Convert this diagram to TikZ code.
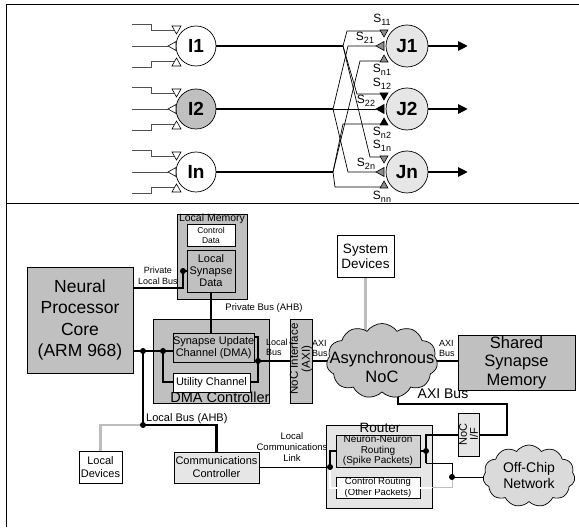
\documentclass[tikz,border=0pt]{standalone}
\usepackage{fontspec}
\setmainfont{Liberation Sans}
\usetikzlibrary{shapes.symbols,arrows.meta,calc}
\pgfdeclarelayer{cont}
\pgfdeclarelayer{wires}
\pgfsetlayers{cont,wires,main}
\definecolor{boxgray}{HTML}{C0C0C0}
\definecolor{palegray}{HTML}{E6E6E6}
\definecolor{cloudgray}{HTML}{C4C4C4}
\definecolor{offgray}{HTML}{DADADA}
\definecolor{nngray}{HTML}{D2D2D2}
\definecolor{linkgray}{HTML}{BDBDBD}
\definecolor{trigray}{HTML}{8C8C8C}
\definecolor{wiregray}{HTML}{505050}
\newcommand\fsz[2]{\fontsize{#1}{#2}\selectfont}
\newcommand\synlab[1]{S\raisebox{-3pt}{\fsz{9}{9}#1}}
\begin{document}
\begin{tikzpicture}[x=1pt,y=-1pt,
  box/.style={draw,line width=0.7pt,inner sep=0pt,outer sep=0pt,align=center,anchor=north west},
  neuron/.style={circle,draw,line width=0.7pt,minimum size=40pt,inner sep=0pt,font=\fsz{19}{19}\bfseries},
  bus/.style={line width=2.6pt},
  wire/.style={line width=0.7pt},
  dot/.style={circle,fill=black,inner sep=0pt,minimum size=6pt},
  lbl/.style={inner sep=0pt,align=center},
  slbl/.style={inner sep=0pt,font=\fsz{12}{12}},
  syn/.style={line width=0.6pt},
  cloudnode/.style={cloud,draw,line width=0.7pt,cloud puffs=11,cloud puff arc=110,inner sep=0pt,outer sep=0pt},
]
\useasboundingbox (0,0) rectangle (579,529);
\draw[line width=0.8pt] (579,4) -- (6,4) -- (6,527);
\draw[line width=0.8pt] (6,203) -- (579,203);

% ---------------- top: neurons ----------------
\node[neuron,fill=white] (I1) at (196,46) {I1};
\node[neuron,fill=boxgray] (I2) at (196,109) {I2};
\node[neuron,fill=white] (In) at (196,172) {In};
\node[neuron,fill=palegray,minimum size=42pt] (J1) at (407,46) {J1};
\node[neuron,fill=palegray,minimum size=42pt] (J2) at (407,109) {J2};
\node[neuron,fill=palegray,minimum size=42pt] (Jn) at (407,172) {Jn};

\foreach \nm in {I1,I2,In}{
  \draw[wire,wiregray] (\nm.center) ++(-64,-22) coordinate (\nm-a0) -- ++(19,0) -- ++(0,6) -- ++(23,0) coordinate (\nm-a1);
  \draw[wire,wiregray] (\nm.center) ++(-64,0) coordinate (\nm-b0) -- ++(36,0) coordinate (\nm-b1);
  \draw[wire,wiregray] (\nm.center) ++(-64,21) coordinate (\nm-c0) -- ++(19,0) -- ++(0,-6) -- ++(23,0) coordinate (\nm-c1);
  \draw[syn,fill=white] (\nm.center) ++(-24,-20) -- ++(9,0) -- ++(-4.5,8) -- cycle;
  \draw[syn,fill=white] (\nm.center) ++(-28,0) -- ++(8,-4.5) -- ++(0,9) -- cycle;
  \draw[syn,fill=white] (\nm.center) ++(-24,20) -- ++(9,0) -- ++(-4.5,-8) -- cycle;
}
\foreach \j/\c in {J1/trigray,J2/black,Jn/trigray}{
  \coordinate (\j-t) at ($(\j)+(-26,-15)$);
  \coordinate (\j-m) at ($(\j)+(-31,0)$);
  \coordinate (\j-b) at ($(\j)+(-26,15)$);
  \draw[syn,fill=\c] (\j.center) ++(-27,-16) -- ++(8,0) -- ++(-4,7) -- cycle;
  \draw[syn,fill=\c] (\j.center) ++(-31,0) -- ++(8,-4.5) -- ++(0,9) -- cycle;
  \draw[syn,fill=\c] (\j.center) ++(-27,16) -- ++(8,0) -- ++(-4,-7) -- cycle;
}

\coordinate (A1) at (343,46);
\coordinate (A2) at (333,109);
\coordinate (A3) at (333,172);
\begin{pgfonlayer}{wires}
\draw[bus] (I1) -- (A1);
\draw[bus] (I2) -- (A2);
\draw[bus] (In) -- (A3);
\draw[wire] (A1) -- (347,31) -- (J1-t);
\draw[wire] (A1) -- (357,94) -- (J2-t);
\draw[wire] (A1) -- (370,157) -- (Jn-t);
\draw[wire] (A2) -- (348,46) -- (J1-m);
\draw[wire] (A2) -- (J2-m);
\draw[wire] (A2) -- (348,172) -- (Jn-m);
\draw[wire] (A3) -- (360,61) -- (J1-b);
\draw[wire] (A3) -- (343,124) -- (J2-b);
\draw[wire] (A3) -- (335,187) -- (Jn-b);
\end{pgfonlayer}
\coordinate (O1) at (468,46);
\coordinate (O2) at (468,109);
\coordinate (On) at (468,172);
\foreach \j/\o in {J1/O1,J2/O2,Jn/On}
  \draw[bus,-{Triangle[length=10pt,width=9pt]}] (\j) -- (\o);

\node[slbl] (s11) at (382,20) {\synlab{11}};
\node[slbl] (s21) at (365,38) {\synlab{21}};
\node[slbl] (sn1) at (382,70) {\synlab{n1}};
\node[slbl] (s12) at (382,84) {\synlab{12}};
\node[slbl] (s22) at (366,101) {\synlab{22}};
\node[slbl] (sn2) at (382,133) {\synlab{n2}};
\node[slbl] (s1n) at (382,146) {\synlab{1n}};
\node[slbl] (s2n) at (366,164) {\synlab{2n}};
\node[slbl] (snn) at (382,197) {\synlab{nn}};

% ---------------- bottom: chip ----------------
\begin{pgfonlayer}{cont}
\node[box,fill=boxgray,minimum width=70pt,minimum height=85pt] (lmem) at (177,214) {};
\node[box,fill=boxgray,minimum width=116pt,minimum height=84pt] (dma) at (153,319) {};
\node[box,fill=palegray,minimum width=106pt,minimum height=83pt] (router) at (326,425) {};
\end{pgfonlayer}
\node[lbl,font=\fsz{10.5}{10.5}] (lmemlbl) at (212,219) {Local Memory};
\node[lbl,font=\fsz{14.5}{14.5}] (dmalbl) at (220,397) {DMA Controller};
\node[lbl,font=\fsz{13.5}{13.5}] (routerlbl) at (380,427.5) {Router};

\node[box,fill=boxgray,minimum width=106pt,minimum height=106pt,font=\fsz{17.5}{21.5}] (npc) at (27,267) {Neural\\Processor\\Core\\(ARM 968)};
\node[box,fill=white,minimum width=48pt,minimum height=22pt,font=\fsz{8.5}{10}] (ctrl) at (187,224) {Control\\Data};
\node[box,fill=boxgray,minimum width=48pt,minimum height=42pt,font=\fsz{11}{12}] (lsd) at (187,250) {Local\\Synapse\\Data};
\node[box,fill=boxgray,minimum width=77pt,minimum height=29pt,font=\fsz{11}{12}] (suc) at (173,333) {Synapse Update\\Channel (DMA)};
\node[box,fill=white,minimum width=77pt,minimum height=19pt,font=\fsz{11}{12}] (util) at (173,373) {Utility Channel};
\node[box,fill=boxgray,minimum width=22pt,minimum height=84pt] (nocif) at (290,319) {};
\node[lbl,rotate=90,font=\fsz{11.5}{12}] (nociftxt) at (301,359) {NoC Interface\\(AXI)};
\node[box,fill=white,minimum width=57pt,minimum height=42pt,font=\fsz{13.5}{15}] (sysdev) at (337,235) {System\\Devices};
\node[cloudnode,fill=cloudgray,minimum width=111pt,minimum height=75pt] (noc) at (382,361) {};
\node[lbl,font=\fsz{16.5}{19}] (noctxt) at (382,367) {Asynchronous\\NoC};
\node[box,fill=boxgray,minimum width=117pt,minimum height=55pt,font=\fsz{16.5}{18.5}] (shared) at (458,335) {Shared\\Synapse\\Memory};
\node[box,fill=nngray,minimum width=84pt,minimum height=32pt,font=\fsz{10}{10.5}] (nn) at (336,435) {Neuron-Neuron\\Routing\\(Spike Packets)};
\node[box,fill=white,minimum width=84pt,minimum height=21pt,font=\fsz{9.5}{10.5}] (cr) at (336,477) {Control Routing\\(Other Packets)};
\node[box,fill=palegray,minimum width=21pt,minimum height=43pt] (nocifb) at (458,413) {};
\node[lbl,rotate=90,font=\fsz{11}{11}] (nocifbtxt) at (468.5,434.5) {NoC\\I/F};
\node[cloudnode,fill=offgray,minimum width=92pt,minimum height=62pt] (offchip) at (529,476) {};
\node[lbl,font=\fsz{14}{16}] (offtxt) at (529,475) {Off-Chip\\Network};
\node[box,fill=palegray,minimum width=85pt,minimum height=31pt,font=\fsz{11}{13}] (comm) at (174,452) {Communications\\Controller};
\node[box,fill=white,minimum width=43pt,minimum height=32pt,font=\fsz{11}{13}] (ldev) at (79,451) {Local\\Devices};

% labels
\node[lbl,font=\fsz{9}{10.5}] (plbl) at (158,276) {Private\\Local Bus};
\node[lbl,font=\fsz{9.5}{9.5}] (pblbl) at (264,308) {Private Bus (AHB)};
\node[lbl,align=left,anchor=west,font=\fsz{9}{10}] (lblbl) at (266,347) {Local\\Bus};
\node[lbl,align=left,anchor=west,font=\fsz{9}{10}] (axil) at (312,348) {AXI\\Bus};
\node[lbl,align=left,anchor=west,font=\fsz{9}{10}] (axir) at (439,348) {AXI\\Bus};
\node[lbl,font=\fsz{14}{14}] (axib) at (443,394) {AXI Bus};
\node[lbl,anchor=west,font=\fsz{11}{11}] (lbahb) at (146,419) {Local Bus (AHB)};
\node[lbl,font=\fsz{9.5}{11}] (lcl) at (292,447) {Local\\Communications\\Link};

% junction coordinates
\coordinate (plb0) at (183,288);
\coordinate (plb) at (183,271);
\coordinate (D0) at (143,351);
\coordinate (D1) at (163,351);
\coordinate (R1) at (258,337);
\coordinate (R2) at (258,382);
\coordinate (D2) at (258,361);
\coordinate (LB) at (143,425);
\coordinate (X1) at (398,404);
\coordinate (X2) at (507,404);
\coordinate (X3) at (507,435);
\coordinate (X4) at (426,435);
\coordinate (X5) at (426,463);
\coordinate (ND) at (426,451);
\coordinate (X6) at (452,463);
\coordinate (OD) at (452,477);
\coordinate (G1) at (452,488);
\coordinate (G2) at (330,488);
\coordinate (LC) at (330,467);

\begin{pgfonlayer}{wires}
\draw[bus] (npc.east |- plb0) -- (plb0) -- (plb) -- (lsd.west |- plb);
\draw[bus] (lsd.south) -- (lsd.south |- suc.north);
\draw[bus] (npc.east |- D0) -- (suc.west |- D0);
\draw[bus] (D1) -- (D1 |- R2) -- (util.west |- R2);
\draw[bus] (suc.east |- R1) -- (R1) -- (R2) -- (util.east |- R2);
\draw[bus] (D2) -- (nocif.west |- D2);
\draw[bus] (nocif.east |- D2) -- (noc.center);
\draw[bus] (noc.center) -- (shared.west |- noc.center);
\draw[linkgray,line width=2.6pt] (sysdev.south) -- (sysdev.south |- noc.center);
\draw[bus] (X1 |- noc.center) -- (X1) -- (X2) -- (X3) -- (nocifb.east |- X3);
\draw[bus] (nocifb.west |- X4) -- (X4) -- (X5);
\draw[bus] (nn.east |- ND) -- (ND);
\draw[wire] (X5) -- (X6) -- (OD) -- (offchip.center |- OD);
\draw[linkgray,line width=1pt] (OD) -- (G1) -- (router.east |- G1);
\draw[wire] (comm.east |- LC) -- (LC);
\draw[bus] (LC) -- (LC |- nn.west) -- (nn.west);
\draw[bus] (D0) -- (LB) -- (LB -| comm.north) -- (comm.north);
\draw[linkgray,line width=2.6pt] (LB) -- (LB -| ldev.north) -- (ldev.north);
\end{pgfonlayer}
\draw[white,line width=1.6pt] (router.east |- G1) -- (G2) -- (LC);

\foreach \p in {plb,D0,D1,D2,LB,ND,LC,OD}
  \node[dot] at (\p) {};
\end{tikzpicture}
\end{document}
